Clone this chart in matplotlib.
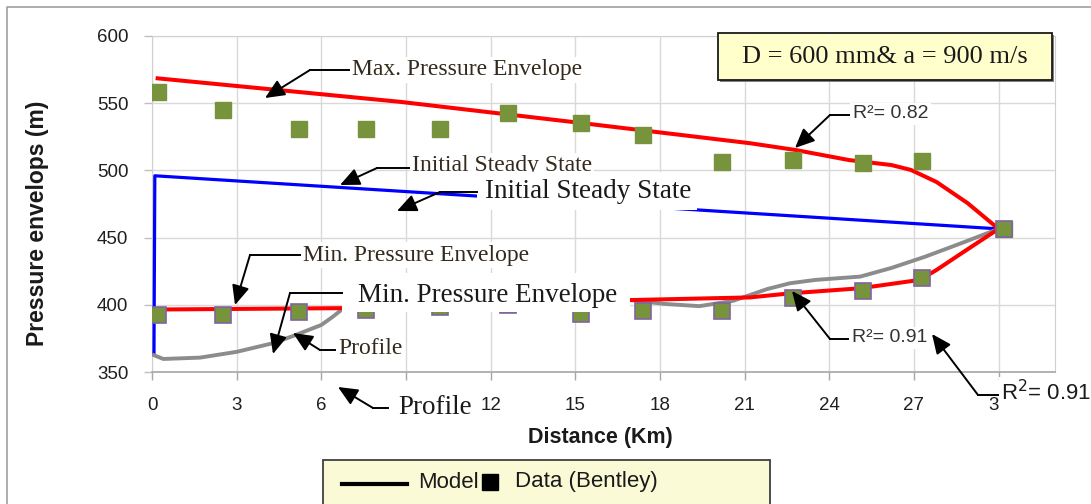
import numpy as np
import matplotlib
matplotlib.use("Agg")
import matplotlib.pyplot as plt
from matplotlib.transforms import Affine2D
from matplotlib.patches import Rectangle, FancyArrowPatch
from matplotlib.lines import Line2D

W, H = 1091, 504

# Modelo: envolventes de presion (distancia en km, presion en m)
max_env_x = [0.2, 8.8, 15.2, 21.2, 22.8, 24.7, 26.2, 26.9, 27.8, 28.9, 30.0]
max_env_y = [568.5, 551.0, 535.3, 520.2, 515.2, 507.7, 504.0, 500.3, 491.4, 475.7, 456.5]

min_env_x = [0.2, 6.7, 16.9, 21.2, 22.6, 25.1, 27.2, 27.8, 28.7, 30.0]
min_env_y = [396.5, 397.5, 403.5, 405.5, 408.5, 412.3, 418.5, 425.9, 438.5, 456.5]

steady_x = [0.07, 0.1, 30.0]
steady_y = [363.0, 496.0, 456.5]

profile_x = [0.07, 0.4, 1.7, 3.0, 4.3, 5.0, 6.0, 6.4, 6.7, 8.0, 12.0, 15.0,
             16.9, 18.2, 19.4, 20.6, 21.8, 22.6, 23.5, 25.1, 26.2, 27.4, 28.7, 30.0]
profile_y = [362.5, 359.7, 360.7, 365.0, 371.5, 376.8, 385.0, 391.0, 396.0, 402.0, 404.0, 403.5,
             403.6, 400.6, 399.0, 403.0, 411.7, 416.0, 418.5, 421.0, 427.4, 435.8, 446.0, 456.5]

# Datos medidos (Bentley)
max_x = [0.23, 2.5, 5.2, 7.6, 10.2, 12.6, 15.2, 17.4, 20.2, 22.7, 25.2, 27.3, 30.2]
max_y = [558.6, 545.0, 530.6, 530.6, 530.8, 542.5, 535.0, 526.3, 506.5, 508.0, 505.7, 506.8, 456.2]

min_x = [0.23, 2.5, 5.2, 7.6, 10.2, 12.6, 15.2, 17.4, 20.2, 22.7, 25.2, 27.3, 30.2]
min_y = [392.4, 392.4, 394.6, 396.5, 398.0, 400.0, 393.0, 395.5, 395.7, 405.4, 410.0, 420.0, 456.2]

x_ticks = np.arange(0, 31, 3)
y_ticks = np.arange(350, 601, 50)

plt.rcParams['font.family'] = ['Liberation Sans', 'DejaVu Sans']

fig = plt.figure(figsize=(W / 100, H / 100), dpi=100)
ax = fig.add_axes([152 / W, 1 - 372 / H, 903 / W, 336 / H])

# coordenadas en pixeles desde la esquina superior izquierda
px = Affine2D().scale(1 / W, -1 / H).translate(0, 1) + fig.transFigure

ax.plot(steady_x, steady_y, color='#0000ff', lw=2.3, zorder=3)
ax.plot(profile_x, profile_y, color='#8c8c8c', lw=2.8, zorder=3)
ax.plot(max_env_x, max_env_y, color='#ff0000', lw=2.9, zorder=4)
ax.plot(min_env_x, min_env_y, color='#ff0000', lw=2.9, zorder=4)
ax.plot(max_x, max_y, 's', ms=11, mfc='#77933c', mec='#77933c', ls='none', zorder=5)
ax.plot(min_x, min_y, 's', ms=11, mfc='#77933c', mec='#8064a2', mew=1.2, ls='none', zorder=5)

ax.set_xlim(0, 32)
ax.set_ylim(350, 600)
ax.set_xticks(x_ticks)
ax.set_yticks(y_ticks)
ax.grid(True, color='#d9d9d9', lw=1.0)
ax.set_axisbelow(True)
for s in ['top', 'right', 'left']:
    ax.spines[s].set_color('#d0d0d0')
ax.spines['bottom'].set_color('#a6a6a6')
ax.spines['bottom'].set_linewidth(1.2)
ax.tick_params(axis='x', length=6, width=1, color='#a6a6a6', labelsize=13.5, pad=12, labelcolor='#1f1f1f')
ax.tick_params(axis='y', length=6, width=1, color='#bfbfbf', labelsize=13.5, pad=11, labelcolor='#1f1f1f')

ax.set_xlabel('Distance (Km)', fontsize=15.5, fontweight='bold', color='#1a1a1a', va='center')
ax.xaxis.set_label_coords((600 - 152) / 903, (372 - 437) / 336)
ax.set_ylabel('Pressure envelops (m)', fontsize=16.5, fontweight='bold', color='#1a1a1a', va='center')
ax.yaxis.set_label_coords((38 - 152) / 903, (372 - 223) / 336)


def callout(start, elbow, tip, z):
    fig.add_artist(Line2D([start[0], elbow[0]], [start[1], elbow[1]], transform=px,
                          color='k', lw=1.4, zorder=z))
    fig.add_artist(FancyArrowPatch(elbow, tip, transform=px,
                                   arrowstyle='-|>,head_length=0.85,head_width=0.38',
                                   mutation_scale=14, color='k', lw=1.4,
                                   shrinkA=0, shrinkB=0, zorder=z))


def tapa(x0, y0, x1, y1, z):
    fig.add_artist(Rectangle((x0, y0), x1 - x0, y1 - y0, transform=px,
                             fc='white', ec='none', zorder=z))


serif = 'Liberation Serif'
chico = dict(family=serif, fontsize=17, color='#33291c', va='center', zorder=6,
             bbox=dict(boxstyle='square,pad=0.1', fc='white', ec='none'))
grande = dict(family=serif, fontsize=19.5, color='#1a1a1a', va='center', zorder=8)

# rotulos chicos
fig.text(352, 70, 'Max. Pressure Envelope', transform=px, **chico)
callout((350, 70), (310, 70), (265, 98), 6)
fig.text(412, 166, 'Initial Steady State', transform=px, **chico)
callout((410, 168), (377, 168), (340, 185), 6)
fig.text(303, 255, 'Min. Pressure Envelope', transform=px, **chico)
callout((301, 255), (250, 255), (235, 305), 6)
fig.text(338, 349, 'Profile', transform=px, **chico)
callout((335, 350), (320, 350), (293, 333), 6)
fig.text(853, 114, 'R²= 0.82', transform=px, family='Liberation Sans', fontsize=14,
         color='#333333', va='center', zorder=6,
         bbox=dict(boxstyle='square,pad=0.15', fc='white', ec='none'))
callout((850, 115), (830, 115), (795, 148), 6)
fig.text(852, 338, 'R²= 0.91', transform=px, family='Liberation Sans', fontsize=14,
         color='#333333', va='center', zorder=6,
         bbox=dict(boxstyle='square,pad=0.15', fc='white', ec='none'))
callout((848, 339), (830, 339), (792, 291), 6)

# rotulos grandes (tapan lo que tienen debajo)
tapa(477, 172, 697, 210, 7)
fig.text(485, 192, 'Initial Steady State', transform=px, **grande)
callout((477, 192), (440, 192), (397, 211), 8)
tapa(342, 273, 630, 312, 7)
fig.text(358, 295, 'Min. Pressure Envelope', transform=px, **grande)
callout((342, 293), (290, 293), (273, 354), 8)
tapa(387, 394, 476, 422, 7)
fig.text(398, 408, 'Profile', transform=px, **grande)
callout((388, 408), (373, 408), (338, 387), 8)
tapa(999, 377, 1091, 412, 7)
fig.text(1001, 393, 'R$^2$= 0.91', transform=px, family='Liberation Sans', fontsize=16,
         color='#1a1a1a', va='center', zorder=8)
callout((998, 395), (978, 395), (932, 334), 8)

# cuadro de parametros
fig.add_artist(Rectangle((720, 35), 334, 47, transform=px, fc='#7f7f7f', ec='none', zorder=6))
fig.add_artist(Rectangle((718, 33), 334, 47, transform=px, fc='#ffffcc', ec='#1a1a1a',
                         lw=1.3, zorder=6))
fig.text(885, 57, 'D = 600 mm& a = 900 m/s', transform=px, family=serif, fontsize=19,
         color='#1a1a1a', ha='center', va='center', zorder=7)

# leyenda
fig.add_artist(Rectangle((323, 460), 447, 60, transform=px, fc='#fafad6', ec='#3f3f3f',
                         lw=1.3, zorder=6))
fig.add_artist(Line2D([342, 407], [484, 484], transform=px, color='k', lw=3, zorder=7))
fig.text(418, 482, 'Model', transform=px, fontsize=16, color='#1a1a1a', va='center', zorder=7)
fig.add_artist(Line2D([489.5], [482], transform=px, marker='s', ms=11, color='k', ls='none', zorder=7))
fig.text(515, 482, 'Data (Bentley)', transform=px, fontsize=16, color='#1a1a1a', va='center', zorder=7)

# marco del grafico
fig.add_artist(Line2D([7, 7, 1091], [504, 7, 7], transform=px, color='#a0a0a0', lw=1.2, zorder=6))

fig.savefig('out.png', dpi=100)
